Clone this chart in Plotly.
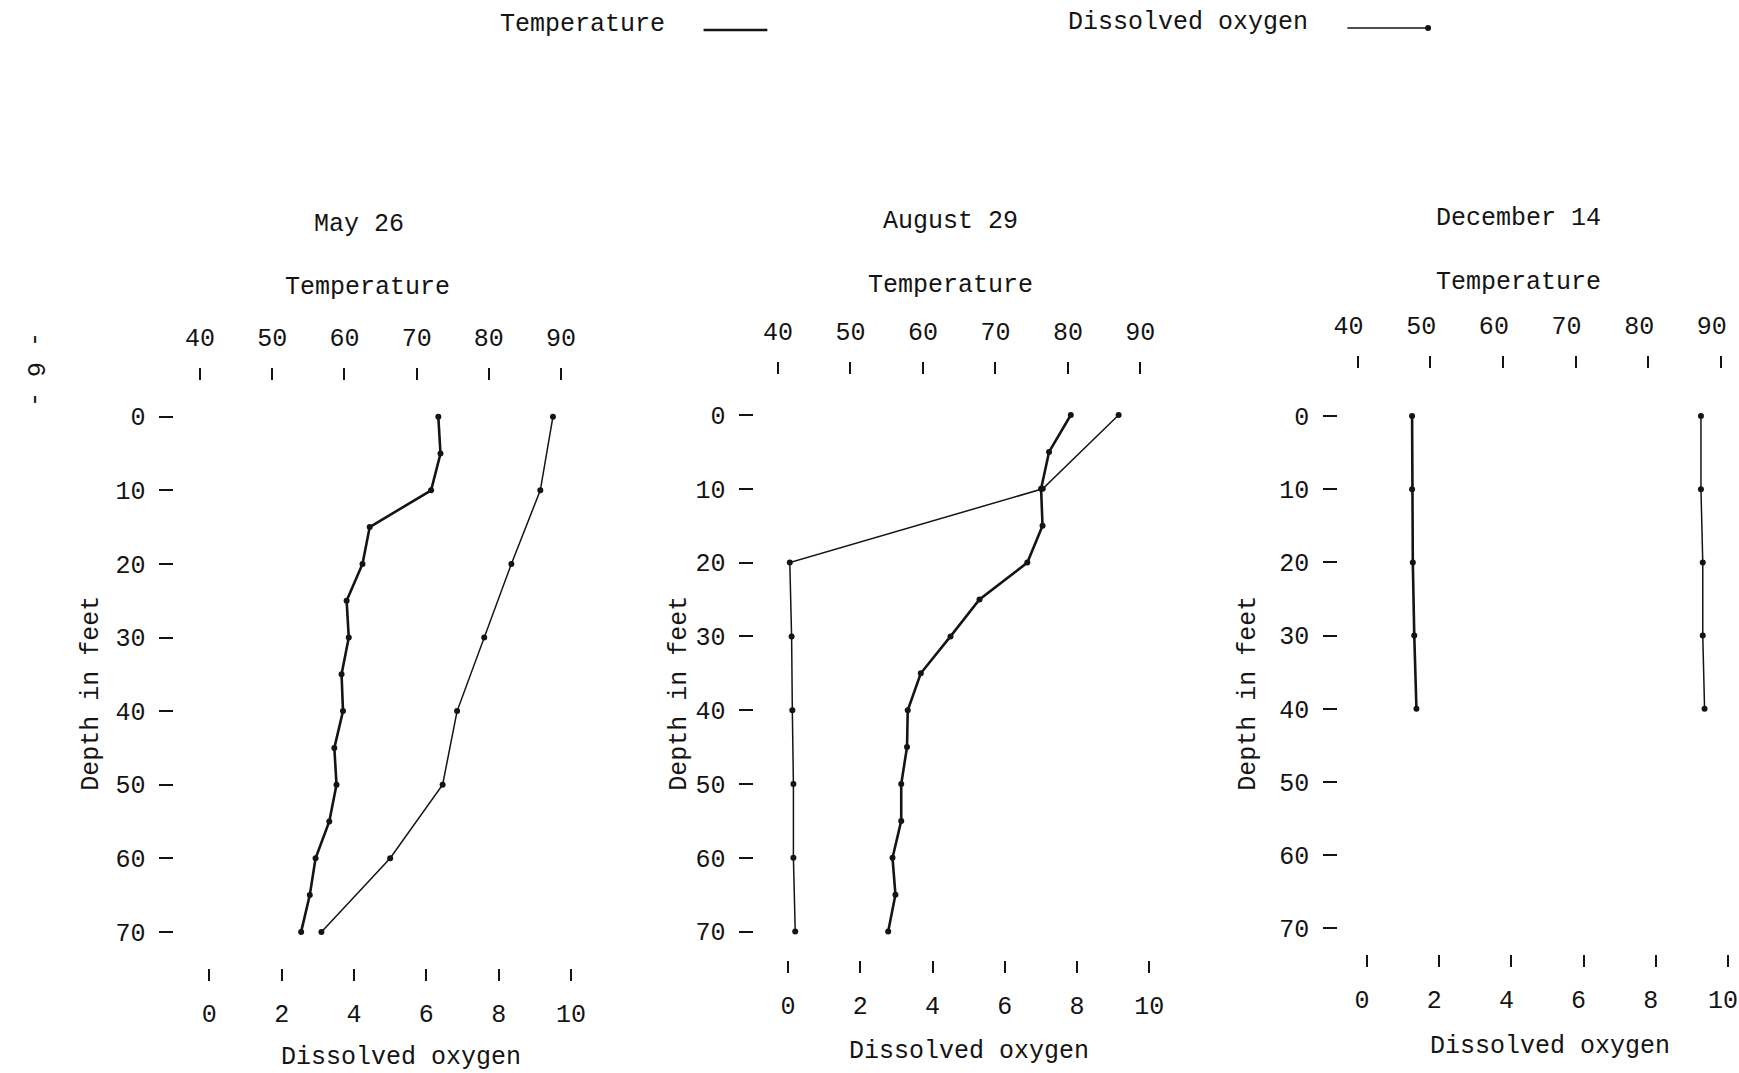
import plotly.graph_objects as go

# ---------------- data ----------------
may_depth_t = [0, 5, 10, 15, 20, 25, 30, 35, 40, 45, 50, 55, 60, 65, 70]
may_temp = [73.0, 73.3, 72.0, 63.5, 62.5, 60.3, 60.6, 59.6, 59.8, 58.6, 58.9, 57.9, 56.0, 55.2, 54.0]
may_depth_o = [0, 10, 20, 30, 40, 50, 60, 70]
may_oxygen = [9.5, 9.15, 8.35, 7.6, 6.85, 6.45, 5.0, 3.1]

aug_depth_t = [0, 5, 10, 15, 20, 25, 30, 35, 40, 45, 50, 55, 60, 65, 70]
aug_temp = [80.4, 77.4, 76.3, 76.5, 74.4, 67.8, 63.8, 59.7, 57.9, 57.8, 57.0, 57.0, 55.8, 56.2, 55.2]
aug_depth_o = [0, 10, 20, 30, 40, 50, 60, 70]
aug_oxygen = [9.15, 7.05, 0.05, 0.1, 0.12, 0.15, 0.15, 0.2]

dec_depth_t = [0, 10, 20, 30, 40]
dec_temp = [47.5, 47.5, 47.6, 47.8, 48.1]
dec_depth_o = [0, 10, 20, 30, 40]
dec_oxygen = [9.25, 9.25, 9.3, 9.3, 9.35]

titles = ["May 26", "August 29", "December 14"]
temp_ticks = [40, 50, 60, 70, 80, 90]
oxygen_ticks = [0, 2, 4, 6, 8, 10]
depth_ticks = [0, 10, 20, 30, 40, 50, 60, 70]

series = [
    (may_depth_t, may_temp, may_depth_o, may_oxygen),
    (aug_depth_t, aug_temp, aug_depth_o, aug_oxygen),
    (dec_depth_t, dec_temp, dec_depth_o, dec_oxygen),
]

# ---------------- layout geometry (pixels) ----------------
W, H = 1739, 1073
geom = [
    dict(xl=170, xr=585, yt=381, yb=968, t40=195.7, tp=72.46, d0=205.0, dp=72.6, y0=416.7, yp=73.6,
         tshift=0, dshift=0),
    dict(xl=752, xr=1165, yt=375, yb=960, t40=775.7, tp=72.72, d0=785.7, dp=72.52, y0=415.0, yp=73.8,
         tshift=0, dshift=0),
    dict(xl=1338, xr=1738, yt=369, yb=954, t40=1357.3, tp=72.88, d0=1366.7, dp=72.46, y0=416.0, yp=73.2,
         tshift=-9, dshift=-5),
]

FONT = "Liberation Mono, Courier New, monospace"
INK = "#141414"
FS = 25

fig = go.Figure()
layout = dict(
    width=W, height=H, margin=dict(l=0, r=0, t=0, b=0),
    paper_bgcolor="white", plot_bgcolor="white", showlegend=False,
    font=dict(family=FONT, size=FS, color=INK),
)
annotations = []

def ax_common():
    return dict(showgrid=False, zeroline=False, showline=False, ticks="outside",
                tickwidth=2, tickcolor=INK, tickfont=dict(family=FONT, size=FS, color=INK),
                fixedrange=True, ticklabeloverflow="allow")

for i, g in enumerate(geom):
    xt_id = "x" if i == 0 else f"x{2*i+1}"
    xd_id = f"x{2*i+2}"
    y_id = "y" if i == 0 else f"y{i+1}"
    xt_key = "xaxis" if i == 0 else f"xaxis{2*i+1}"
    xd_key = f"xaxis{2*i+2}"
    y_key = "yaxis" if i == 0 else f"yaxis{i+1}"

    dom_x = [g["xl"] / W, g["xr"] / W]
    dom_y = [1 - g["yb"] / H, 1 - g["yt"] / H]
    t_rng = [40 + (g["xl"] - g["t40"]) / g["tp"] * 10, 40 + (g["xr"] - g["t40"]) / g["tp"] * 10]
    d_rng = [(g["xl"] - g["d0"]) / g["dp"] * 2, (g["xr"] - g["d0"]) / g["dp"] * 2]
    y_rng = [(g["yb"] - g["y0"]) / g["yp"] * 10, (g["yt"] - g["y0"]) / g["yp"] * 10]

    a = ax_common()
    a.update(domain=dom_x, range=t_rng, side="top", anchor=y_id, tickvals=temp_ticks,
             ticklen=12, ticklabelstandoff=12, ticklabelshift=g["tshift"])
    layout[xt_key] = a
    a = ax_common()
    a.update(domain=dom_x, range=d_rng, side="bottom", anchor=y_id, overlaying=xt_id,
             tickvals=oxygen_ticks, ticklen=12, ticklabelstandoff=11, ticklabelshift=g["dshift"])
    layout[xd_key] = a
    a = ax_common()
    a.update(domain=dom_y, range=y_rng, side="left", anchor=xt_id, tickvals=depth_ticks,
             ticklen=14, ticklabelstandoff=9)
    layout[y_key] = a

    dt, tv, do, ov = series[i]
    fig.add_trace(go.Scatter(x=tv, y=dt, xaxis=xt_id, yaxis=y_id, mode="lines+markers",
                             name="Temperature", line=dict(color=INK, width=2.6),
                             marker=dict(color=INK, size=6)))
    fig.add_trace(go.Scatter(x=ov, y=do, xaxis=xd_id, yaxis=y_id, mode="lines+markers",
                             name="Dissolved oxygen", line=dict(color=INK, width=1.5),
                             marker=dict(color=INK, size=6)))

# text labels (panel titles, axis titles)
title_pos = [(355, 224), (949, 222), (1519, 218)]
temp_title_pos = [(364, 287), (949, 285), (1519, 282)]
depth_title_pos = [(86, 693), (676, 693), (1247, 693)]
oxy_title_pos = [(397, 1057), (967, 1051), (1550, 1046)]

def ann(text, x, y, angle=0):
    annotations.append(dict(text=text, x=x / W, y=1 - y / H, xref="paper", yref="paper",
                            showarrow=False, textangle=angle, xanchor="center", yanchor="middle",
                            font=dict(family=FONT, size=FS, color=INK)))

for i in range(3):
    ann(titles[i], *title_pos[i])
    ann("Temperature", *temp_title_pos[i])
    ann("Depth in feet", *depth_title_pos[i], angle=-90)
    ann("Dissolved oxygen", *oxy_title_pos[i])

# legend at top
ann("Temperature", 579, 24)
ann("Dissolved oxygen", 1187, 22)
ann("- 6 -", 30, 370, angle=90)

shapes = [
    dict(type="line", xref="paper", yref="paper", x0=701 / W, x1=765 / W, y0=1 - 30 / H, y1=1 - 30 / H,
         line=dict(color=INK, width=2.6)),
    dict(type="line", xref="paper", yref="paper", x0=1347 / W, x1=1428 / W, y0=1 - 28 / H, y1=1 - 28 / H,
         line=dict(color=INK, width=1.5)),
    dict(type="circle", xref="paper", yref="paper", x0=1425 / W, x1=1431 / W, y0=1 - 31 / H, y1=1 - 25 / H,
         fillcolor=INK, line=dict(color=INK, width=0)),
]

layout["annotations"] = annotations
layout["shapes"] = shapes
fig.update_layout(**layout)
fig.write_html("out.html", config={"displayModeBar": False},
               post_script="document.body.style.margin='0';document.body.style.overflow='hidden';")
